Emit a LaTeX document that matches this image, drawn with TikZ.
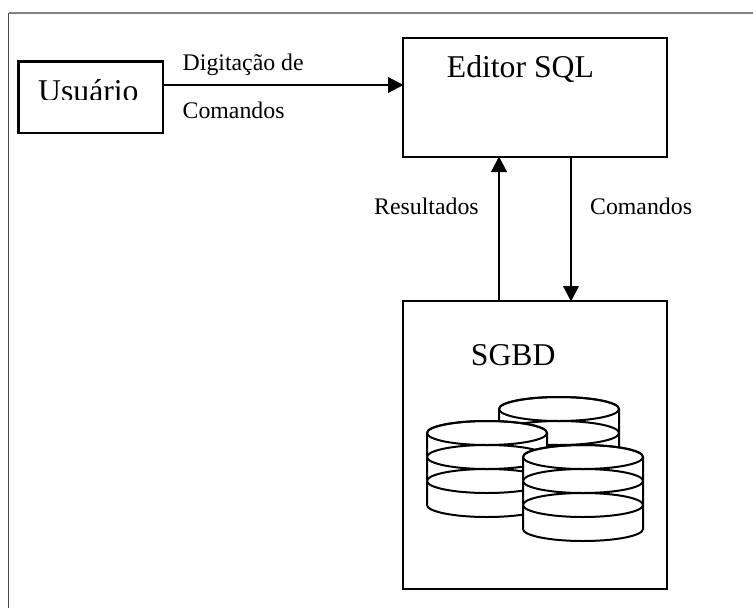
\documentclass[tikz,border=0pt]{standalone}
\usepackage{fontspec}
\setmainfont{Liberation Serif}
\usetikzlibrary{arrows.meta}
\tikzset{
  x=1pt,y=-1pt,
  line/.style={draw=black,line width=2pt},
  box/.style={draw=black,line width=2.2pt,fill=white,rectangle,inner sep=0pt,outer sep=0pt,anchor=north west,minimum width=#1},
  flow/.style={draw=black,line width=2.1pt,-{Triangle[length=15.5pt,width=15.5pt]},shorten >=-0.5pt},
  big/.style={anchor=base west,inner sep=0pt,font=\fontsize{31.7pt}{34pt}\selectfont},
  small/.style={anchor=base west,inner sep=0pt,font=\fontsize{23.8pt}{26pt}\selectfont},
  pics/disks/.style={code={
    \path[line,fill=white] (-60,0) -- (-60,72) arc[start angle=180,end angle=360,x radius=60pt,y radius=12pt] -- (60,0) arc[start angle=0,end angle=180,x radius=60pt,y radius=12pt] -- cycle;
    \foreach \k in {48,24,0}{\path[line] (0,\k) ellipse[x radius=60pt,y radius=12pt];}
  }}
}
\begin{document}
\begin{tikzpicture}
\useasboundingbox[fill=white] (0,0) rectangle (753,608);
\coordinate (corner) at (8.5,13);
\coordinate (frameright) at (753,13);
\coordinate (framebottom) at (8.5,608);
\draw[draw=black!50,line width=1.7pt] (corner) -- (frameright);
\draw[draw=black!72,line width=1.8pt] (corner) -- (framebottom);

\node[box=144.5pt,minimum height=71.5pt] (usuario) at (18.5,61.5) {};
\node[box=264pt,minimum height=119pt] (editor) at (403,38) {};
\node[box=264pt,minimum height=288pt] (sgbd) at (403,301) {};

\begin{scope}
\clip (20,60) rectangle (160,99.5);
\node[big] (usuariolabel) at (38,101) {Usuário};
\end{scope}
\node[big] (editorlabel) at (446.7,77.7) {Editor SQL};
\node[big] (sgbdlabel) at (470.7,365) {SGBD};
\node[small] (digitacao) at (182.5,70) {Digitação de};
\node[small] (comandosa) at (182.5,118) {Comandos};
\node[small] (resultados) at (374,214) {Resultados};
\node[small] (comandosb) at (590,214) {Comandos};

\coordinate (ya) at (0,85);
\coordinate (xr) at (499,0);
\coordinate (xc) at (571,0);
\draw[flow] (usuario.east |- ya) -- (editor.west |- ya);
\draw[flow] (sgbd.north -| xr) -- (editor.south -| xr);
\draw[flow] (editor.south -| xc) -- (sgbd.north -| xc);

\pic at (559,409) {disks};
\pic at (487,433) {disks};
\pic at (583,457) {disks};
\end{tikzpicture}
\end{document}
